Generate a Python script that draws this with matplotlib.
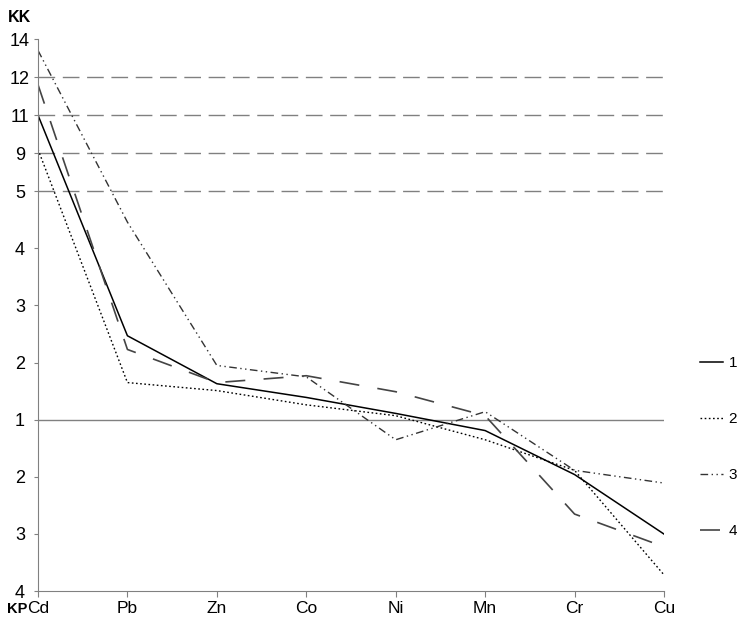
import matplotlib
matplotlib.use('Agg')
import matplotlib.pyplot as plt
import numpy as np

plt.rcParams['font.family'] = ['Liberation Sans', 'DejaVu Sans']

# Elements along the x axis
elements = ['Cd', 'Pb', 'Zn', 'Co', 'Ni', 'Mn', 'Cr', 'Cu']

# Concentration coefficients (values < 1 are shown as KP = 1/K below the "1" line)
s1 = [11.0, 2.47, 1.63, 1.39, 1.11, 0.84, 0.51, 0.333]
s2 = [9.2, 1.65, 1.51, 1.26, 1.07, 0.74, 0.53, 0.269]
s3 = [13.4, 4.46, 1.95, 1.75, 0.74, 1.14, 0.53, 0.474]
s4 = [11.8, 2.23, 1.65, 1.77, 1.49, 1.07, 0.377, 0.31]
series_names = ['1', '2', '3', '4']

# y axis ticks (KK above 1, KP below 1)
kk_vals = [1, 2, 3, 4, 5, 9, 11, 12, 14]
kk_pos = [0, 1, 2, 3, 4, 4.667, 5.333, 6, 6.667]
tick_vals = [0.25, 1/3, 0.5, 1, 2, 3, 4, 5, 9, 11, 12, 14]
tick_labels = ['4', '3', '2', '1', '2', '3', '4', '5', '9', '11', '12', '14']
grid_vals = [5, 9, 11, 12]


def fwd(k):
    k = np.asarray(k, dtype=float)
    ks = np.maximum(k, 1e-6)
    up = np.interp(ks, kk_vals, kk_pos)
    down = 1 - 1 / ks
    return np.where(ks >= 1, up, down)


def inv(p):
    p = np.asarray(p, dtype=float)
    up = np.interp(p, kk_pos, kk_vals)
    down = 1 / (1 - np.minimum(p, 0))
    return np.where(p >= 0, up, down)


fig = plt.figure(figsize=(7.4, 6.21), dpi=100)
ax = fig.add_axes([38/740, 30/621, 626/740, 552/621])
ax.set_yscale('function', functions=(fwd, inv))

x = np.arange(len(elements))
ax.plot(x, s1, color='black', lw=1.1, label=series_names[0])
ax.plot(x, s2, color='black', lw=1.0, linestyle=(0, (1.2, 1.8)), label=series_names[1])
ax.plot(x, s3, color='#333333', lw=1.0, linestyle=(0, (5.5, 2.5, 1, 2.5, 1, 2.5)), label=series_names[2])
ax.plot(x, s4, color='#444444', lw=1.2, linestyle=(0, (12, 11)), label=series_names[3])

for g in grid_vals:
    ax.axhline(g, color='#808080', lw=1.0, linestyle=(0, (12, 5.5)), zorder=0)
ax.axhline(1, color='#808080', lw=1.0, zorder=0)

ax.set_xlim(0, 7)
ax.set_ylim(0.25, 14)
ax.set_xticks(x)
ax.set_xticklabels(elements, fontsize=12.5)
ax.set_yticks(tick_vals)
ax.set_yticklabels(tick_labels, fontsize=13)
for t in ax.get_yticklabels():
    t.set_horizontalalignment('center')
ax.minorticks_off()

for side in ['top', 'right']:
    ax.spines[side].set_visible(False)
for side in ['left', 'bottom']:
    ax.spines[side].set_color('#808080')
ax.tick_params(axis='y', length=3, color='#808080', pad=10)
ax.tick_params(axis='x', length=4, color='#808080', pad=3)

fig.text(8/740, 1 - 17/621, 'KK', fontsize=11.5, fontweight='bold', va='center')
fig.text(7/740, 1 - 609/621, 'KP', fontsize=10.5, fontweight='bold', va='center')

ax.legend(loc='upper left', bbox_to_anchor=(1.057, 0.425), frameon=False,
          fontsize=11, handlelength=1.5, handletextpad=0.4, labelspacing=2.75,
          borderpad=0, borderaxespad=0)

plt.savefig('out.png', dpi=100)
